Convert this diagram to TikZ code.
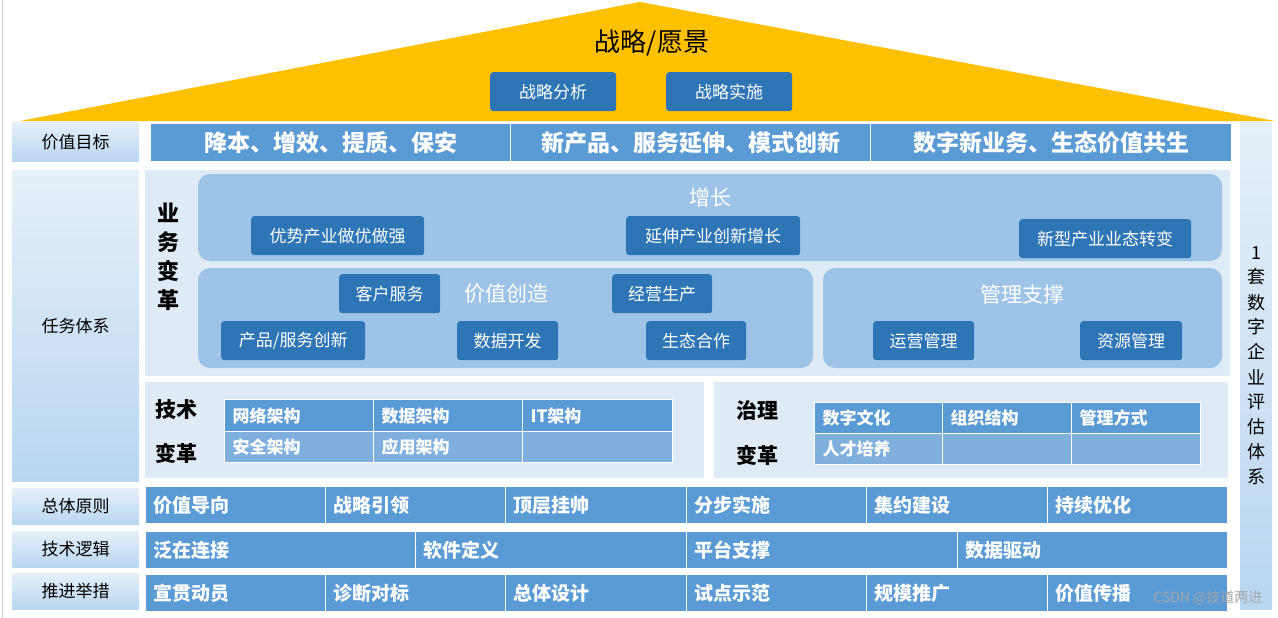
\documentclass[tikz,border=0pt]{standalone}
\usepackage{fontspec}
\setmainfont{Noto Sans CJK SC}
\definecolor{roof}{RGB}{255,192,0}
\definecolor{dblue}{RGB}{46,117,182}
\definecolor{mblue}{RGB}{91,155,213}
\definecolor{lblue}{RGB}{157,195,230}
\definecolor{pale}{RGB}{222,234,246}
\definecolor{cell2}{RGB}{127,176,221}
\definecolor{lab1}{RGB}{230,240,250}
\definecolor{lab2}{RGB}{184,214,240}
\tikzset{
 btn/.style={fill=dblue,rounded corners=3pt,text=white,font=\fontsize{17}{17}\selectfont,inner sep=0pt},
 cell/.style={fill=mblue,draw=white,line width=1.2pt,text=white,font=\bfseries\fontsize{17}{17}\selectfont,inner sep=0pt},
 lab/.style={top color=lab1,bottom color=lab2,draw=none,font=\fontsize{17}{17}\selectfont,inner sep=0pt},
 grp/.style={fill=lblue,rounded corners=12pt},
 gtitle/.style={text=white,font=\fontsize{21}{21}\selectfont},
 vtitle/.style={font=\bfseries\fontsize{21}{21}\selectfont,align=center},
 tc/.style={text width=#1,align=left,font=\bfseries\fontsize{17}{17}\selectfont,inner xsep=8pt},
 rc/.style={text width=#1,align=left,font=\bfseries\fontsize{19}{19}\selectfont,inner xsep=8pt},
}
\newcommand{\bx}[5][btn]{\node[#1,minimum width=#4-#2,minimum height=#5-#3,anchor=north west] at (#2,#3)}
\begin{document}
\begin{tikzpicture}[x=1pt,y=-1pt]
\useasboundingbox[fill=white] (0,0) rectangle (1278,618);
\draw[gray!40] (2,0)--(2,618);
% roof
\fill[roof] (20,121)--(640,2)--(1275,121)--cycle;
\node[font=\fontsize{26}{26}\selectfont] (title) at (652,43) {战略/愿景};
\bx{490}{72}{616}{111} (s1) {战略分析};
\bx{666}{72}{792}{111} (s2) {战略实施};
% left labels
\bx[lab]{12}{122}{139}{161} (l1) {价值目标};
\bx[lab]{12}{170}{139}{481} (l2) {任务体系};
\bx[lab]{12}{488}{139}{524} (l3) {总体原则};
\bx[lab]{12}{531}{139}{567} (l4) {技术逻辑};
\bx[lab]{12}{573}{139}{609} (l5) {推进举措};
% right column
\bx[lab,align=center,font=\fontsize{18}{25}\selectfont]{1240}{122}{1272}{609} (r) {1\\套\\数\\字\\企\\业\\评\\估\\体\\系};
% value row
\bx[cell,font=\bfseries\fontsize{23}{23}\selectfont]{150}{123}{510}{161} (v1) {降本、增效、提质、保安};
\bx[cell,font=\bfseries\fontsize{23}{23}\selectfont]{510}{123}{870}{161} (v2) {新产品、服务延伸、模式创新};
\bx[cell,font=\bfseries\fontsize{23}{23}\selectfont]{870}{123}{1231}{161} (v3) {数字新业务、生态价值共生};
% task area
\fill[pale] (145,170) rectangle (1230,376);
\node[vtitle,font=\bfseries\fontsize{22}{29}\selectfont] (yw) at (168,257) {业\\务\\变\\革};
\fill[grp] (198,174) rectangle (1222,261);
\node[gtitle] (zz) at (710,197) {增长};
\bx{251}{216}{424}{255} (g1) {优势产业做优做强};
\bx{626}{216}{800}{255} (g2) {延伸产业创新增长};
\bx{1019}{219}{1191}{258} (g3) {新型产业业态转变};
\fill[grp] (198,268) rectangle (813,368);
\node[gtitle] (jz) at (506,294) {价值创造};
\bx{339}{274}{440}{313} (c1) {客户服务};
\bx{612}{274}{712}{313} (c2) {经营生产};
\bx{221}{321}{365}{360} (c3) {产品/服务创新};
\bx{457}{321}{558}{360} (c4) {数据开发};
\bx{646}{321}{746}{360} (c5) {生态合作};
\fill[grp] (823,268) rectangle (1222,368);
\node[gtitle] (gl) at (1022,294) {管理支撑};
\bx{873}{321}{974}{360} (m1) {运营管理};
\bx{1080}{321}{1182}{360} (m2) {资源管理};
% tech
\fill[pale] (145,382) rectangle (704,478);
\node[vtitle] (js1) at (176,410) {技术};
\node[vtitle] (js2) at (176,453) {变革};
\bx[cell,tc=133pt]{224}{399}{373}{431} (t1) {网络架构};
\bx[cell,tc=133pt]{373}{399}{522}{431} (t2) {数据架构};
\bx[cell,tc=134pt]{522}{399}{672}{431} (t3) {IT架构};
\bx[cell,fill=cell2,tc=133pt]{224}{431}{373}{462} (t4) {安全架构};
\bx[cell,fill=cell2,tc=133pt]{373}{431}{522}{462} (t5) {应用架构};
\bx[cell,fill=cell2,tc=134pt]{522}{431}{672}{462} (t6) {};
% governance
\fill[pale] (714,382) rectangle (1228,478);
\node[vtitle] (zl1) at (757,410) {治理};
\node[vtitle] (zl2) at (757,455) {变革};
\bx[cell,tc=112pt]{814}{402}{942}{433} (o1) {数字文化};
\bx[cell,tc=113pt]{942}{402}{1071}{433} (o2) {组织结构};
\bx[cell,tc=113pt]{1071}{402}{1200}{433} (o3) {管理方式};
\bx[cell,fill=cell2,tc=112pt]{814}{433}{942}{464} (o4) {人才培养};
\bx[cell,fill=cell2,tc=113pt]{942}{433}{1071}{464} (o5) {};
\bx[cell,fill=cell2,tc=113pt]{1071}{433}{1200}{464} (o6) {};
% rows
\bx[cell,rc=164pt]{145}{486}{325}{523} (p1) {价值导向};
\bx[cell,rc=164pt]{325}{486}{505}{523} (p2) {战略引领};
\bx[cell,rc=165pt]{505}{486}{686}{523} (p3) {顶层挂帅};
\bx[cell,rc=164pt]{686}{486}{866}{523} (p4) {分步实施};
\bx[cell,rc=165pt]{866}{486}{1047}{523} (p5) {集约建设};
\bx[cell,rc=164pt]{1047}{486}{1227}{523} (p6) {持续优化};
\bx[cell,rc=254pt]{145}{531}{415}{568} (q1) {泛在连接};
\bx[cell,rc=255pt]{415}{531}{686}{568} (q2) {软件定义};
\bx[cell,rc=255pt]{686}{531}{957}{568} (q3) {平台支撑};
\bx[cell,rc=254pt]{957}{531}{1227}{568} (q4) {数据驱动};
\bx[cell,rc=164pt]{145}{574}{325}{611} (w1) {宣贯动员};
\bx[cell,rc=164pt]{325}{574}{505}{611} (w2) {诊断对标};
\bx[cell,rc=165pt]{505}{574}{686}{611} (w3) {总体设计};
\bx[cell,rc=164pt]{686}{574}{866}{611} (w4) {试点示范};
\bx[cell,rc=165pt]{866}{574}{1047}{611} (w5) {规模推广};
\bx[cell,rc=164pt]{1047}{574}{1227}{611} (w6) {价值传播};
\node[text=gray!70,font=\fontsize{14}{14}\selectfont,anchor=east] (wm) at (1266,598) {CSDN @技道两进};
\end{tikzpicture}
\end{document}
